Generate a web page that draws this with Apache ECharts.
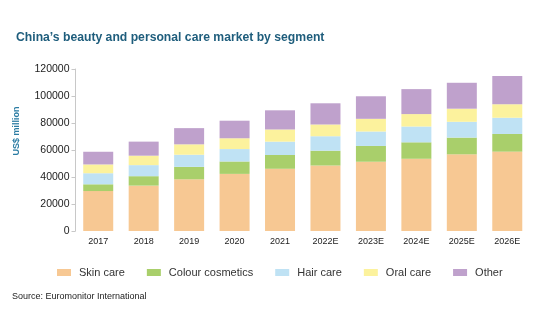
<!DOCTYPE html>
<html><head><meta charset="utf-8">
<script src="https://cdn.jsdelivr.net/npm/echarts@6/dist/echarts.min.js"></script>
<style>html,body{margin:0;padding:0;background:#fff}#c{width:540px;height:334px}</style>
</head><body><div id="c"></div>
<script>
const categories = ['2017','2018','2019','2020','2021','2022E','2023E','2024E','2025E','2026E'];
const skinCare = [29600,33600,38300,42300,46100,48500,51300,53500,56800,58800];
const colourCosmetics = [5000,7000,9200,9200,10200,11000,11700,12200,12400,13100];
const hairCare = [8200,8200,9000,9200,9900,10700,10700,11700,11700,12000];
const oralCare = [6500,7000,7700,8000,9000,8700,9400,9200,9700,10000];
const other = [9400,10400,12000,13000,14200,15700,16700,18500,19200,20900];
const yTicks = [0,20000,40000,60000,80000,100000,120000];

const seriesDefs = [
  ['Skin care', skinCare, '#f7c893'],
  ['Colour cosmetics', colourCosmetics, '#a9cf6b'],
  ['Hair care', hairCare, '#bfe2f4'],
  ['Oral care', oralCare, '#fcf29d'],
  ['Other', other, '#bfa1cc']
];
const chart = echarts.init(document.getElementById('c'));
chart.setOption({
  animation: false,
  title: {
    text: 'China\u2019s beauty and personal care market by segment',
    left: 11, top: 27,
    textStyle: {fontFamily: 'Liberation Sans, Arial, sans-serif', fontSize: 12.2, fontWeight: 'bold', color: '#1e5d7c'}
  },
  graphic: [
    {type: 'text', left: 12, top: 292, style: {text: 'Source: Euromonitor International', font: '9px "Liberation Sans", Arial, sans-serif', fill: '#222'}},
    {type: 'text', x: 17, y: 131, rotation: Math.PI / 2, style: {text: 'US$ million', font: 'bold 9px "Liberation Sans", Arial, sans-serif', fill: '#2b7ca3', align: 'center', verticalAlign: 'middle'}}
  ],
  legend: {
    left: 57, top: 267, padding: 0, itemWidth: 14, itemHeight: 7, itemGap: 22,
    icon: 'rect',
    textStyle: {fontFamily: 'Liberation Sans, Arial, sans-serif', fontSize: 11, color: '#333', padding: [0, 0, 0, 3]},
    data: seriesDefs.map(s => s[0])
  },
  grid: {left: 75.5, right: 10, top: 69, bottom: 103},
  xAxis: {
    type: 'category', data: categories,
    axisLine: {show: false}, axisTick: {show: false},
    axisLabel: {fontFamily: 'Liberation Sans, Arial, sans-serif', fontSize: 9, color: '#222', margin: 6}
  },
  yAxis: {
    type: 'value', min: yTicks[0], max: yTicks[yTicks.length - 1], interval: 20000,
    axisLine: {show: true, lineStyle: {color: '#c8c8c8'}},
    axisTick: {show: true, length: 4, lineStyle: {color: '#c8c8c8'}},
    splitLine: {show: false},
    axisLabel: {fontFamily: 'Liberation Sans, Arial, sans-serif', fontSize: 10.5, color: '#222', margin: 6, formatter: v => String(v)}
  },
  series: seriesDefs.map(s => ({
    name: s[0], type: 'bar', stack: 'total', data: s[1], barWidth: 30,
    itemStyle: {color: s[2]}
  }))
});
</script></body></html>
